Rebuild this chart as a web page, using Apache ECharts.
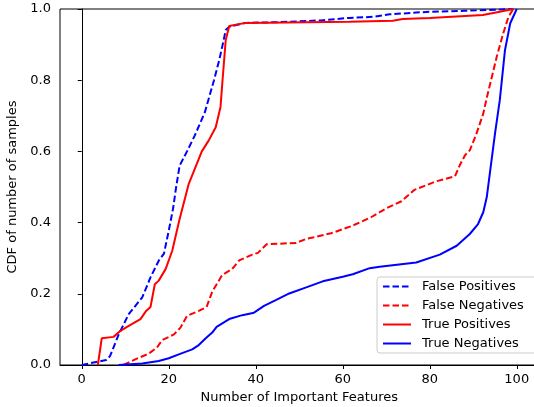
<!DOCTYPE html>
<html>
<head>
<meta charset="utf-8">
<script src="https://cdn.jsdelivr.net/npm/echarts@6/dist/echarts.min.js"></script>
<style>
  html, body { margin: 0; padding: 0; background: #fff; }
  #chart { width: 534px; height: 407px; }
</style>
</head>
<body>
<div id="chart"></div>
<script>
// x = number of important features, y = CDF
const fpX = [0, 5.6, 6.5, 8.5, 10.8, 13.9, 15.8, 17.7, 18.9, 20.0, 21.0, 21.7, 22.5, 24.2, 26, 28.3, 30.4, 31.6, 32.4, 33.1, 33.9, 35.5, 37.7, 45, 55, 61.5, 66.9, 70.8, 76.9, 80, 88, 95.4, 99.2]
const fpY = [0, 0.014, 0.025, 0.086, 0.143, 0.19, 0.246, 0.293, 0.313, 0.377, 0.44, 0.5, 0.56, 0.6, 0.645, 0.71, 0.8, 0.856, 0.9, 0.941, 0.95, 0.955, 0.961, 0.963, 0.968, 0.975, 0.978, 0.985, 0.99, 0.992, 0.995, 0.998, 1.0]

const fnX = [9.6, 12.3, 15.4, 17.3, 18.5, 21.2, 22.7, 24.2, 26.9, 28.7, 30.0, 32.3, 34.6, 36.2, 39.2, 40.5, 42.5, 49.3, 51.6, 53.1, 57.3, 62, 66.5, 70, 73.5, 76.5, 81.5, 85.8, 86.9, 88.1, 89.2, 90.6, 92.3, 93.2, 95.4, 96.9, 98.1, 99.2]
const fnY = [0, 0.016, 0.032, 0.049, 0.07, 0.086, 0.105, 0.138, 0.152, 0.163, 0.206, 0.253, 0.27, 0.294, 0.31, 0.315, 0.339, 0.343, 0.354, 0.358, 0.37, 0.39, 0.415, 0.44, 0.46, 0.492, 0.516, 0.53, 0.561, 0.589, 0.603, 0.645, 0.706, 0.755, 0.866, 0.932, 0.978, 1.0]

const tpX = [3.7, 4.6, 7.3, 8.9, 10.8, 13.5, 14.8, 15.8, 16.8, 17.7, 19.3, 20.8, 22.5, 24.6, 27.6, 29.2, 30.8, 31.9, 32.3, 33.1, 33.9, 37.7, 47, 61.5, 71.5, 73.8, 80, 92.2, 96.1, 99.2]
const tpY = [0, 0.075, 0.079, 0.096, 0.11, 0.129, 0.152, 0.163, 0.227, 0.237, 0.27, 0.321, 0.41, 0.509, 0.6, 0.631, 0.668, 0.725, 0.79, 0.913, 0.952, 0.961, 0.962, 0.964, 0.967, 0.972, 0.975, 0.983, 0.992, 1.0]

const tnX = [8.5, 13.9, 17.7, 20, 22.3, 25.4, 26.9, 28.5, 30, 31, 33.9, 36.9, 39.6, 41.9, 44.6, 47.7, 51.6, 55.4, 60, 62.3, 66.2, 68.5, 76.9, 82.3, 86.2, 89.2, 91.1, 92.3, 93.1, 93.8, 95, 96.1, 97.3, 98.5, 100]
const tnY = [0, 0.004, 0.011, 0.019, 0.03, 0.044, 0.056, 0.075, 0.091, 0.107, 0.129, 0.14, 0.147, 0.166, 0.182, 0.201, 0.218, 0.235, 0.248, 0.255, 0.272, 0.276, 0.288, 0.31, 0.335, 0.368, 0.396, 0.429, 0.471, 0.537, 0.65, 0.744, 0.885, 0.96, 1.0]

const xTicks = [0, 20, 40, 60, 80, 100]
const names = ['False Positives', 'False Negatives', 'True Positives', 'True Negatives']

const zip = (xs, ys) => xs.map((x, i) => [x, ys[i]])
const font = 'DejaVu Sans'
const fs = 13

let mkLine = (name, xs, ys, color, dashed) => ({
    name: name,
    type: 'line',
    data: zip(xs, ys),
    symbol: 'none',
    smooth: false,
    lineStyle: {
        color: color,
        width: 2,
        type: dashed ? [6.5, 3] : 'solid'
    },
    itemStyle: { color: color }
})

var Chart = echarts.init(document.getElementById('chart'))
var option = {
    animation: false,
    backgroundColor: '#fff',
    grid: {
        left: 60,
        top: 9,
        width: 478.5,
        height: 356,
        outerBoundsMode: 'none',
        containLabel: false,
        show: true,
        borderColor: '#000',
        borderWidth: 1
    },
    legend: {
        data: names,
        orient: 'vertical',
        left: 377,
        top: 277,
        padding: [3, 14, 3, 5],
        itemWidth: 28,
        itemHeight: 14,
        itemGap: 6,
        backgroundColor: 'rgba(255,255,255,0.8)',
        borderColor: '#cccccc',
        borderWidth: 1,
        borderRadius: 3,
        itemStyle: { color: 'rgba(0,0,0,0)', borderColor: 'rgba(0,0,0,0)', borderWidth: 0 },
        textStyle: {
            fontFamily: font,
            fontSize: fs,
            color: '#000',
            padding: [0, 0, 0, 6]
        }
    },
    xAxis: {
        type: 'value',
        min: -5,
        max: 105,
        name: 'Number of Important Features',
        nameLocation: 'middle',
        nameGap: 26,
        nameTextStyle: { fontFamily: font, fontSize: fs, color: '#000' },
        axisLine: { show: true, lineStyle: { color: '#000', width: 1 } },
        axisTick: { show: true, length: 4, lineStyle: { color: '#000' }, customValues: xTicks },
        axisLabel: { fontFamily: font, fontSize: fs, color: '#000', margin: 8, customValues: xTicks },
        splitLine: { show: false }
    },
    yAxis: {
        type: 'value',
        min: 0,
        max: 1,
        interval: 0.2,
        name: 'CDF of number of samples',
        nameLocation: 'middle',
        nameGap: 40,
        nameTextStyle: { fontFamily: font, fontSize: fs, color: '#000' },
        axisLine: { show: true, lineStyle: { color: '#000', width: 1 } },
        axisTick: { show: true, length: 4, lineStyle: { color: '#000' } },
        axisLabel: {
            fontFamily: font, fontSize: fs, color: '#000', margin: 9,
            formatter: v => v.toFixed(1)
        },
        splitLine: { show: false }
    },
    series: [
        mkLine(names[0], fpX, fpY, '#0000ff', true),
        mkLine(names[1], fnX, fnY, '#ff0000', true),
        mkLine(names[2], tpX, tpY, '#ff0000', false),
        mkLine(names[3], tnX, tnY, '#0000ff', false)
    ]
};
Chart.setOption(option)
</script>
</body>
</html>
